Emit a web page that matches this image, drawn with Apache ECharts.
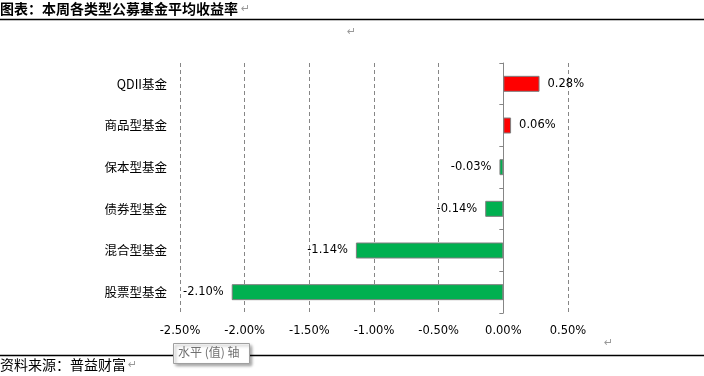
<!DOCTYPE html>
<html>
<head>
<meta charset="utf-8">
<script src="https://cdn.jsdelivr.net/npm/echarts@6/dist/echarts.min.js"></script>
<style>
  html, body { margin: 0; padding: 0; background: #fff; }
  #chart { width: 704px; height: 376px; }
</style>
</head>
<body>
<div id="chart"></div>
<script>
// fund categories, top to bottom
const categories = ["QDII基金", "商品型基金", "保本型基金", "债券型基金", "混合型基金", "股票型基金"];
// weekly average return, %
const returns = [0.28, 0.06, -0.03, -0.14, -1.14, -2.10];
const xMin = -2.5;
const xMax = 0.5;
const xStep = 0.5;

const cjk = '"Noto Sans CJK SC", "Noto Sans", sans-serif';
const latin = '"DejaVu Sans", Verdana, sans-serif';

const chart = echarts.init(document.getElementById("chart"));

chart.setOption({
  animation: false,
  grid: { left: 180, right: 136, top: 63, bottom: 63 },
  xAxis: {
    type: "value",
    min: xMin,
    max: xMax,
    interval: xStep,
    axisLine: { show: false },
    axisTick: { show: false },
    axisLabel: {
      margin: 12,
      color: "#000",
      fontFamily: latin,
      fontSize: 11.5,
      formatter: (v) => v.toFixed(2) + "%",
    },
    splitLine: {
      show: true,
      lineStyle: { color: "#868686", type: [4, 3], width: 1 },
    },
  },
  yAxis: [
    {
      type: "category",
      data: categories,
      inverse: true,
      axisLine: { show: false, onZero: false },
      axisTick: { show: false },
      axisLabel: { margin: 13, color: "#000", fontFamily: cjk, fontSize: 12.5 },
    },
    {
      type: "category",
      data: categories,
      inverse: true,
      position: "left",
      axisLine: { show: true, onZero: true, lineStyle: { color: "#868686", width: 1 } },
      axisTick: { show: true, length: 4, lineStyle: { color: "#868686" } },
      axisLabel: { show: false },
    },
  ],
  series: [
    {
      type: "bar",
      yAxisIndex: 0,
      barWidth: 16,
      data: returns.map((v) => ({
        value: v,
        itemStyle: { color: v >= 0 ? "#ff0000" : "#00b050" },
        label: { position: v >= 0 ? "right" : "left" },
      })),
      itemStyle: { borderColor: "#7f7f7f", borderWidth: 1 },
      label: {
        show: true,
        distance: 8,
        color: "#000",
        fontFamily: latin,
        fontSize: 11.5,
        formatter: (p) => p.value.toFixed(2) + "%",
      },
    },
  ],
  graphic: [
    {
      type: "text",
      left: 0,
      top: 2,
      style: { text: "图表：本周各类型公募基金平均收益率", font: "bold 14px " + cjk, fill: "#000" },
    },
    { type: "text", left: 241, top: 4, style: { text: "↵", font: "11px " + latin, fill: "#999" } },
    { type: "line", shape: { x1: 0, y1: 19.5, x2: 704, y2: 19.5 }, style: { stroke: "#000", lineWidth: 1.5 } },
    { type: "text", left: 347, top: 27, style: { text: "↵", font: "11px " + latin, fill: "#999" } },
    { type: "text", left: 604, top: 338, style: { text: "↵", font: "11px " + latin, fill: "#999" } },
    { type: "line", shape: { x1: 0, y1: 355.5, x2: 704, y2: 355.5 }, style: { stroke: "#000", lineWidth: 1.5 } },
    {
      type: "text",
      left: 0,
      top: 358,
      style: { text: "资料来源：普益财富", font: "14px " + cjk, fill: "#000" },
    },
    { type: "text", left: 128, top: 360, style: { text: "↵", font: "11px " + latin, fill: "#999" } },
    {
      type: "rect",
      shape: { x: 173.5, y: 343.5, width: 76, height: 20 },
      style: {
        fill: "#fff",
        stroke: "#a0a0a0",
        lineWidth: 1,
        shadowBlur: 3,
        shadowOffsetX: 2,
        shadowOffsetY: 2,
        shadowColor: "rgba(0,0,0,0.35)",
      },
    },
    {
      type: "text",
      left: 178,
      top: 346,
      style: { text: "水平 (值) 轴", font: "12px " + cjk, fill: "#707070" },
    },
  ],
});
</script>
</body>
</html>
